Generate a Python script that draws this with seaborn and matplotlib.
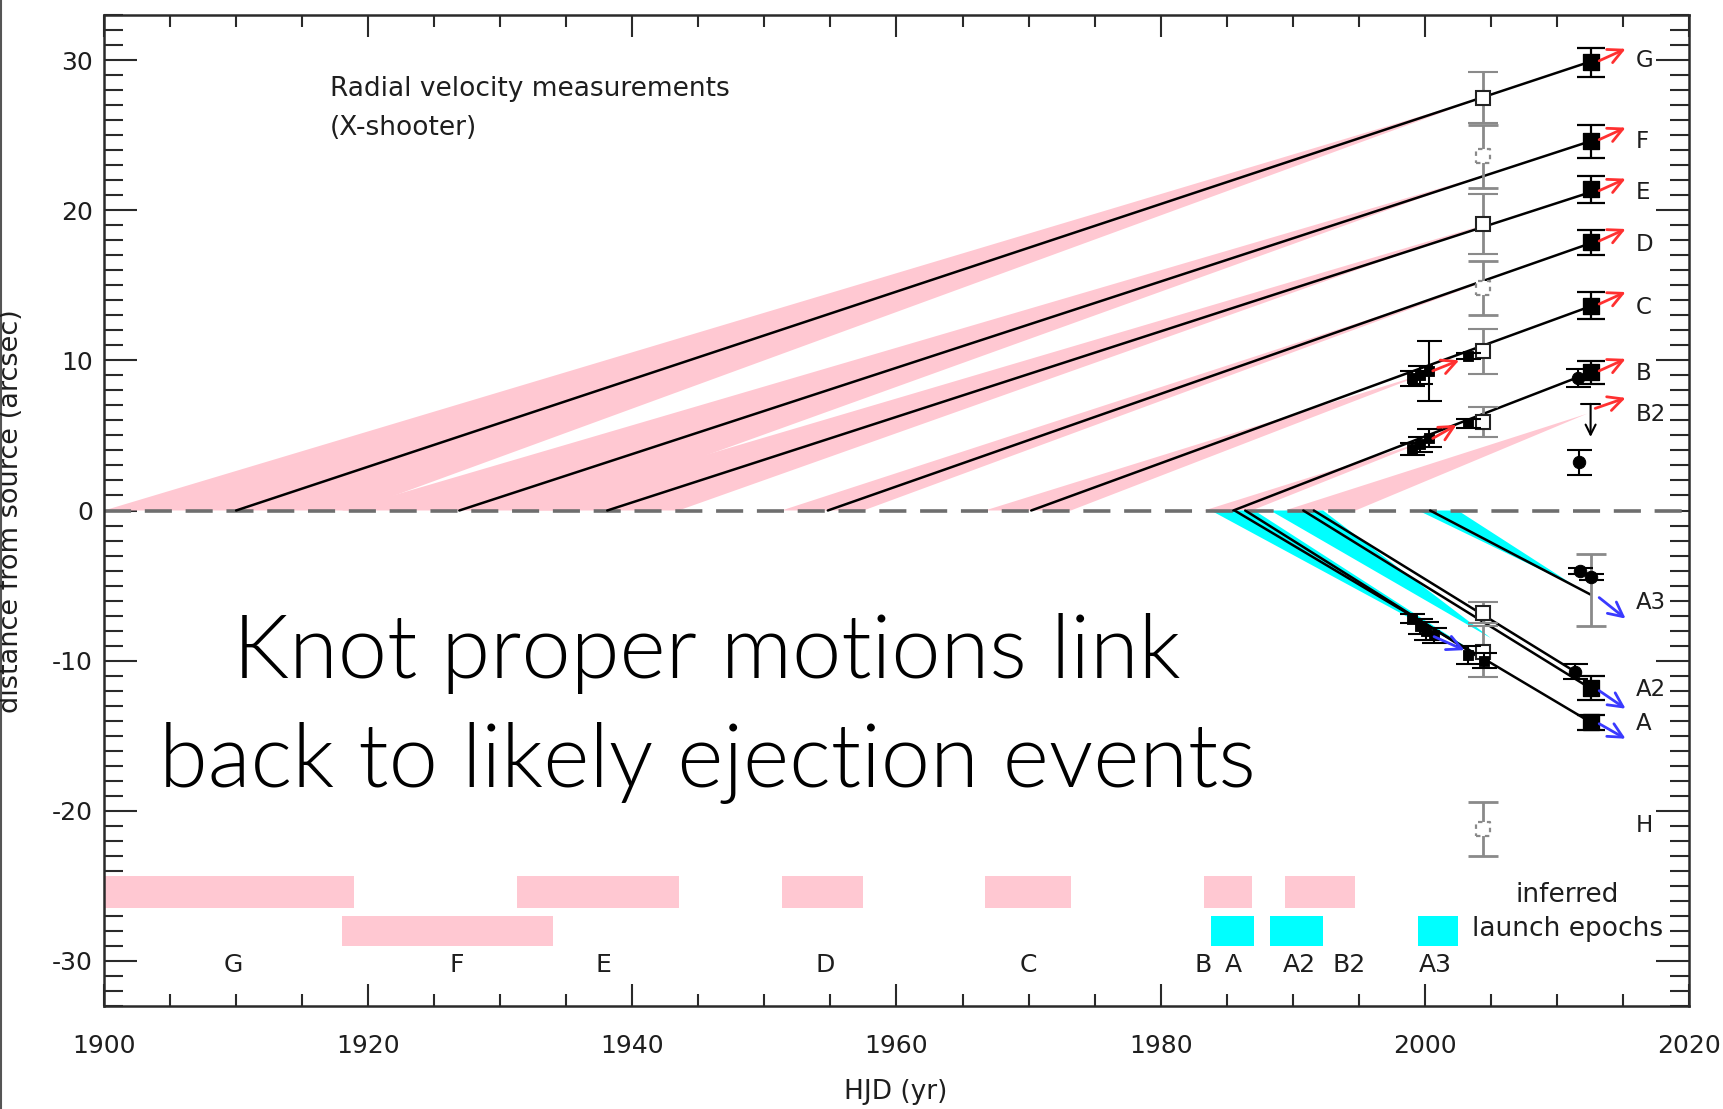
import numpy as np
import pandas as pd
import matplotlib
matplotlib.use("Agg")
import matplotlib.pyplot as plt
from matplotlib import font_manager as fm
from matplotlib.ticker import MultipleLocator
from matplotlib.patches import Polygon, Rectangle
from matplotlib.lines import Line2D
import seaborn as sns

sns.set_style("ticks")
plt.rcParams['font.family'] = ['DejaVu Sans']
plt.rcParams['axes.unicode_minus'] = False

# ---- knot trajectories: launch epoch on the source, latest position ----
traj_knots = ["G", "F", "E", "D", "C", "B", "A", "A2", "A3", "A-early", "A2-late"]
traj_launch = [1910.0, 1926.9, 1938.1, 1954.8, 1970.2, 1985.5, 1985.6, 1990.8, 2000.4,
               1986.4, 1991.6]
traj_end_year = [2012.55, 2012.55, 2012.55, 2012.55, 2012.55, 2012.55, 2012.55, 2012.55,
                 2012.55, 2004.5, 2011.4]
traj_end_offset = [29.9, 24.6, 21.2, 17.8, 13.6, 9.2, -14.1, -11.85, -5.6, -10.0, -10.75]

# ---- uncertainty wedges: launch range and apex ----
wedge_knots = ["G", "F", "E", "D", "C", "B", "B2", "A", "A2", "A3"]
wedge_lo = [1900.0, 1918.0, 1931.3, 1951.3, 1966.7, 1983.3, 1989.4, 1983.8, 1988.3, 1999.5]
wedge_hi = [1918.9, 1934.0, 1943.5, 1957.5, 1973.2, 1986.9, 1994.75, 1987.1, 1992.3, 2002.5]
wedge_apex_year = [2004.4, 2004.4, 2004.4, 2004.4, 2000.3, 2000.3, 2012.3, 2004.4, 2005.0, 2011.5]
wedge_apex_offset = [27.5, 22.3, 19.0, 15.2, 9.2, 4.7, 6.45, -9.8, -8.5, -5.1]
wedge_side = ["red", "red", "red", "red", "red", "red", "red", "blue", "blue", "blue"]

# ---- latest epoch positions (filled squares) ----
sq_knots = ["G", "F", "E", "D", "C", "B", "A2", "A"]
sq_offset = [29.85, 24.6, 21.4, 17.85, 13.65, 9.2, -11.85, -14.1]
sq_err = [0.95, 1.1, 0.9, 0.85, 0.9, 0.75, 0.8, 0.5]
sq_year = 2012.55

# ---- other recent-epoch points (small filled circles) ----
recent_year = [2011.6, 2011.65, 2011.4, 2011.75, 2012.6]
recent_offset = [8.8, 3.2, -10.75, -4.0, -4.4]
recent_err = [0.6, 0.85, 0.5, 0.2, 0.2]

# ---- earlier epoch points (around 1999-2004) ----
early_year = [1999.0, 1999.6, 2000.3, 2003.3, 1999.0, 1999.6, 2000.3, 2003.3,
              1999.0, 1999.6, 2000.1, 2000.7, 2003.3, 2004.5]
early_offset = [8.8, 9.0, 9.3, 10.3, 4.1, 4.4, 4.8, 5.8,
                -7.2, -7.7, -8.0, -8.3, -9.6, -10.0]
early_err = [0.5, 0.6, 2.0, 0.2, 0.4, 0.5, 0.6, 0.3,
             0.3, 0.5, 0.6, 0.5, 0.6, 0.5]

# ---- radial velocity (X-shooter) positions ----
rv_year = 2004.4
rv_offset = [27.5, 19.1, 10.6, 5.9, -6.8, -9.4]
rv_err = [1.7, 2.0, 1.5, 1.0, 0.7, 1.7]
rv_dash_offset = [23.6, 14.8, -21.2]
rv_dash_err = [2.1, 1.8, 1.8]
a3_bar_year = 2012.6
a3_bar_offset = -5.3
a3_bar_err = 2.4
b2_limit = (2012.55, 7.1, 4.9)

# ---- proper motion arrows (start year, start offset, end year, end offset) ----
arrow_x0 = [2013.2, 2013.2, 2013.2, 2013.2, 2013.2, 2013.2, 2012.9, 2000.6, 2000.6,
            2013.2, 2013.2, 2013.2, 2000.7]
arrow_y0 = [29.95, 24.7, 21.3, 17.95, 13.75, 9.3, 6.8, 9.3, 4.8,
            -5.8, -12.0, -14.2, -8.4]
arrow_x1 = [2015.2, 2015.2, 2015.2, 2015.2, 2015.2, 2015.2, 2015.2, 2002.6, 2002.4,
            2015.2, 2015.2, 2015.2, 2003.0]
arrow_y1 = [30.75, 25.5, 22.1, 18.75, 14.55, 10.1, 7.5, 10.0, 5.7,
            -7.2, -13.2, -15.2, -9.3]
arrow_side = ["red"] * 9 + ["blue"] * 4

# ---- knot labels on the right ----
lab_text = ["G", "F", "E", "D", "C", "B", "B2", "A3", "A2", "A", "H"]
lab_offset = [29.95, 24.6, 21.2, 17.7, 13.55, 9.1, 6.4, -6.1, -11.9, -14.2, -21.0]

# ---- inferred launch epochs ----
ep_lo = [1900.0, 1918.0, 1931.3, 1951.3, 1966.7, 1983.3, 1989.4, 1983.8, 1988.3, 1999.5]
ep_hi = [1918.9, 1934.0, 1943.5, 1957.5, 1973.2, 1986.9, 1994.75, 1987.1, 1992.3, 2002.5]
ep_row = [0, 1, 0, 0, 0, 0, 0, 1, 1, 1]
ep_side = ["red", "red", "red", "red", "red", "red", "red", "blue", "blue", "blue"]
ep_lab = ["G", "F", "E", "D", "C", "B", "A", "A2", "B2", "A3"]
ep_lab_year = [1909.8, 1926.7, 1937.8, 1954.6, 1970.0, 1983.2, 1985.5, 1990.5, 1994.3, 2000.8]

headline = ["Knot proper motions link", "back to likely ejection events"]

PINK = "#FFC8D2"
CYAN = "#00FFFF"
RED = "#FF3030"
BLUE = "#3A3AFF"
GRAY = "#8a8a8a"
AX = "#2a2a2a"
TXT = "#1e1e1e"


def light_font():
    """Pick an installed light-weight humanist sans for the headline."""
    def wnum(w):
        if isinstance(w, str):
            return fm.weight_dict.get(w, 400)
        return int(w)
    for fam in ["Lato", "Open Sans", "Roboto", "Noto Sans", "Inter"]:
        for entry in fm.fontManager.ttflist:
            if entry.name == fam and entry.style == "normal" and wnum(entry.weight) == 300:
                return fm.FontProperties(fname=entry.fname)
    return fm.FontProperties(family="Lato", weight="normal")


fig = plt.figure(figsize=(17.24, 11.09), dpi=100)
ax = fig.add_axes([104 / 1724, 1 - 1006 / 1109, (1689 - 104) / 1724, (1006 - 15) / 1109])
ax.set_xlim(1900, 2020)
ax.set_ylim(-33, 33)

# uncertainty wedges
for lo, hi, xa, ya, side in zip(wedge_lo, wedge_hi, wedge_apex_year, wedge_apex_offset, wedge_side):
    ax.add_patch(Polygon([(lo, 0), (hi, 0), (xa, ya)], closed=True,
                         facecolor=PINK if side == "red" else CYAN, edgecolor="none", zorder=1))

# zero line
ax.axhline(0, color="#6e6e6e", lw=2.6, dashes=(7.5, 3.8), zorder=2)

# trajectories
traj = pd.DataFrame({
    "knot": np.repeat(traj_knots, 2),
    "year": np.ravel(np.column_stack([traj_launch, traj_end_year])),
    "offset": np.ravel(np.column_stack([np.zeros(len(traj_knots)), traj_end_offset])),
})
sns.lineplot(data=traj, x="year", y="offset", units="knot", estimator=None,
             color="black", lw=1.8, ax=ax, zorder=3)

# X-shooter positions
ax.errorbar([rv_year] * len(rv_offset), rv_offset, yerr=rv_err, fmt="s", ms=10,
            mfc="white", mec="#222222", mew=1.5, ecolor=GRAY, elinewidth=2.0,
            capsize=11, capthick=2.0, zorder=4)
ax.errorbar([rv_year] * len(rv_dash_offset), rv_dash_offset, yerr=rv_dash_err, fmt="none",
            ecolor=GRAY, elinewidth=2.0, capsize=11, capthick=2.0, zorder=4)
ax.scatter([rv_year] * len(rv_dash_offset), rv_dash_offset, marker="s", s=100,
           facecolor="white", edgecolor=GRAY, linewidths=1.6, linestyles=(0, (2.0, 2.0)),
           zorder=5)
ax.errorbar([a3_bar_year], [a3_bar_offset], yerr=[a3_bar_err], fmt="none", ecolor=GRAY,
            elinewidth=2.0, capsize=11, capthick=2.0, zorder=4)

# earlier-epoch points
ax.errorbar(early_year, early_offset, yerr=early_err, fmt="none", ecolor="black",
            elinewidth=1.5, capsize=9, capthick=1.5, zorder=5)
sns.scatterplot(x=early_year, y=early_offset, marker="s", s=60, color="black",
                edgecolor="black", ax=ax, zorder=6, legend=False)

# latest positions
ax.errorbar([sq_year] * len(sq_offset), sq_offset, yerr=sq_err, fmt="none", ecolor="black",
            elinewidth=1.6, capsize=10, capthick=1.6, zorder=5)
sns.scatterplot(x=[sq_year] * len(sq_offset), y=sq_offset, marker="s", s=140, color="black",
                edgecolor="black", ax=ax, zorder=6, legend=False)
ax.errorbar(recent_year, recent_offset, yerr=recent_err, fmt="none", ecolor="black",
            elinewidth=1.5, capsize=9, capthick=1.5, zorder=5)
sns.scatterplot(x=recent_year, y=recent_offset, marker="o", s=80, color="black",
                edgecolor="black", ax=ax, zorder=6, legend=False)

# B2 upper limit
ax.annotate("", xy=(b2_limit[0], b2_limit[2]), xytext=(b2_limit[0], b2_limit[1]),
            arrowprops=dict(arrowstyle="->", color="black", lw=1.5, mutation_scale=18,
                            shrinkA=0, shrinkB=0),
            zorder=5)
ax.plot([b2_limit[0] - 0.7, b2_limit[0] + 0.7], [b2_limit[1]] * 2, color="black", lw=1.5)

# proper motion arrows
for x0, y0, x1, y1, side in zip(arrow_x0, arrow_y0, arrow_x1, arrow_y1, arrow_side):
    ax.annotate("", xy=(x1, y1), xytext=(x0, y0),
                arrowprops=dict(arrowstyle="->", color=RED if side == "red" else BLUE,
                                lw=2.0, mutation_scale=26, shrinkA=0, shrinkB=0),
                zorder=7)

# knot labels
for t, yv in zip(lab_text, lab_offset):
    ax.text(2016.0, yv, t, fontsize=16.5, color=TXT, ha="left", va="center")

# launch epoch bars
row_y = [(-26.5, -24.35), (-29.0, -27.0)]
for lo, hi, r, side in zip(ep_lo, ep_hi, ep_row, ep_side):
    y0, y1 = row_y[r]
    ax.add_patch(Rectangle((lo, y0), hi - lo, y1 - y0,
                           facecolor=PINK if side == "red" else CYAN, edgecolor="none", zorder=2))
for t, xv in zip(ep_lab, ep_lab_year):
    ax.text(xv, -30.3, t, fontsize=18, color=TXT, ha="center", va="center")
ax.text(2010.8, -25.6, "inferred", fontsize=19, color=TXT, ha="center", va="center")
ax.text(2010.8, -27.9, "launch epochs", fontsize=19, color=TXT, ha="center", va="center")

ax.text(1917.1, 28.1, "Radial velocity measurements", fontsize=19, color=TXT,
        ha="left", va="center")
ax.text(1917.1, 25.5, "(X-shooter)", fontsize=19, color=TXT, ha="left", va="center")

# axes styling
ax.xaxis.set_major_locator(MultipleLocator(20))
ax.xaxis.set_minor_locator(MultipleLocator(5))
ax.yaxis.set_major_locator(MultipleLocator(10))
ax.yaxis.set_minor_locator(MultipleLocator(1))
ax.tick_params(axis="both", which="both", direction="in", top=True, right=True,
               color=AX, width=1.5, labelcolor=TXT, labelsize=18)
ax.tick_params(axis="x", which="major", length=16, pad=20)
ax.tick_params(axis="x", which="minor", length=8.5)
ax.tick_params(axis="y", which="major", length=24, pad=8)
ax.tick_params(axis="y", which="minor", length=13.5)
for s in ax.spines.values():
    s.set_color(AX)
    s.set_linewidth(1.8)
ax.set_xlabel("")
ax.set_ylabel("")
fig.text(896 / 1724, 1 - 1092 / 1109, "HJD (yr)", fontsize=19, color=TXT,
         ha="center", va="center")
fig.text(11 / 1724, 1 - 511 / 1109, "distance from source (arcsec)", fontsize=19.5,
         color=TXT, ha="center", va="center", rotation=90)
fig.add_artist(Line2D([1.5 / 1724] * 2, [0, 1], color="#555555", lw=1.5))

# headline, sized so the first line spans about 950 px
hfont = light_font()
hfont.set_size(60)
t1 = fig.text(707 / 1724, 1 - 678 / 1109, headline[0], fontproperties=hfont,
              color="black", ha="center", va="baseline")
fig.canvas.draw()
w = t1.get_window_extent().width
hfont.set_size(60 * 949.0 / w)
t1.set_fontproperties(hfont)
fig.text(707 / 1724, 1 - 787 / 1109, headline[1], fontproperties=hfont,
         color="black", ha="center", va="baseline")

fig.savefig("out.png", dpi=100)
